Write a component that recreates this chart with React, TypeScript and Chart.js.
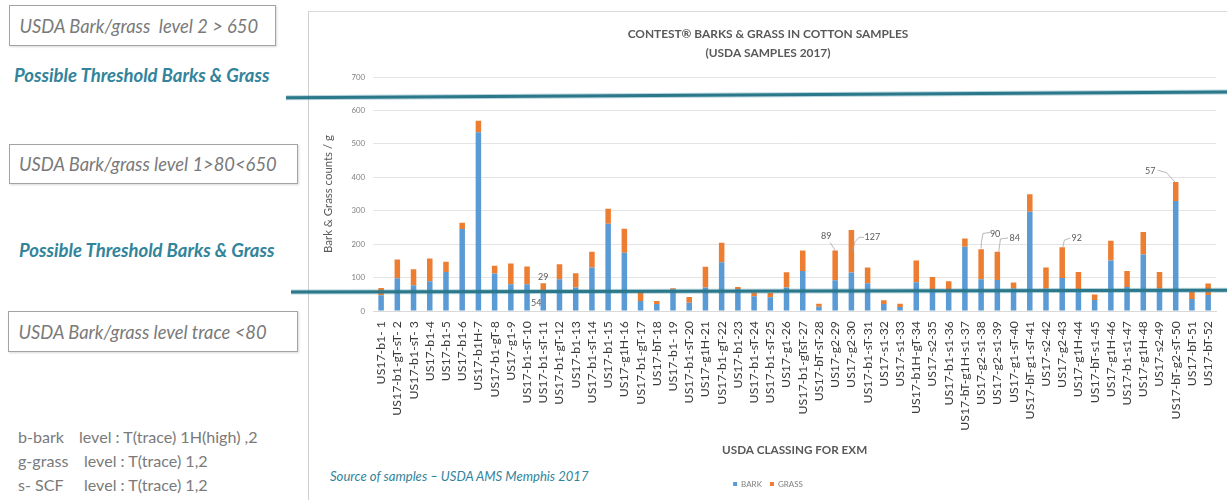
import React, { useEffect, useRef } from "react";
import { Chart, registerables } from "chart.js";

Chart.register(...registerables);

const categories = [
  "US17-b1- 1", "US17-b1-gT-sT- 2", "US17-b1-sT- 3", "US17-b1-4", "US17-b1-5", "US17-b1-6",
  "US17-b1H-7", "US17-b1-gT-8", "US17-g1-9", "US17-b1-sT-10", "US17-b1-sT-11", "US17-b1-gT-12",
  "US17-b1-13", "US17-b1-sT-14", "US17-b1-15", "US17-g1H-16", "US17-b1-gT-17", "US17-bT-18",
  "US17-b1- 19", "US17-b1-sT-20", "US17-g1H-21", "US17-b1-gT-22", "US17-b1-23", "US17-b1-sT-24",
  "US17-b1-sT-25", "US17-g1-26", "US17-b1-gTsT-27", "US17-bT-sT-28", "US17-g2-29", "US17-g2-30",
  "US17-b1-sT-31", "US17-s1-32", "US17-s1-33", "US17-b1H-gT-34", "US17-s2-35", "US17-b1-s1-36",
  "US17-bT-g1H-s1-37", "US17-g2-s1-38", "US17-g2-s1-39", "US17-g1-sT-40", "US17-bT-g1-sT-41",
  "US17-s2-42", "US17-g2-43", "US17-g1H-44", "US17-bT-s1-45", "US17-g1H-46", "US17-b1-s1-47",
  "US17-g1H-48", "US17-s2-49", "US17-bT-g2-sT-50", "US17-bT-51", "US17-bT-52",
];

const bark = [
  47, 98, 77, 89, 117, 245, 535, 112, 80, 80,
  54, 95, 70, 130, 261, 174, 30, 21, 65, 25,
  70, 146, 66, 44, 41, 70, 120, 13, 92, 115,
  83, 21, 12, 86, 66, 55, 192, 95, 93, 67,
  297, 67, 99, 66, 33, 151, 72, 169, 67, 329,
  36, 48,
];

const grass = [
  22, 56, 48, 68, 30, 19, 34, 23, 62, 53,
  29, 45, 43, 47, 45, 72, 27, 9, 3, 17,
  62, 58, 6, 11, 13, 46, 61, 9, 89, 127,
  47, 11, 10, 65, 36, 34, 25, 90, 84, 18,
  52, 63, 92, 51, 16, 59, 48, 67, 50, 57,
  21, 34,
];

const yTickMax = 700;
const yTickStep = 100;

// bars whose grass / bark values carry a data label
const grassLabelIdx = [10, 28, 29, 37, 38, 42, 49];
const barkLabelIdx = [10];

// hand-drawn threshold lines: value at left end, value at right end
const thresholdHigh = [638, 655];
const thresholdLow = [57, 62];

const TEAL = "#31849B";
const FONT = 'Lato, "Open Sans", sans-serif';

// label placement relative to the top of the grass segment (styling only)
const grassLabelPlacement = [
  { dx: 0, dy: -6, leader: [] as number[][] },
  { dx: -9, dy: -14, leader: [[-5, -8], [0, 0]] },
  { dx: 21, dy: 7, leader: [[12.6, 7.3], [7.6, 7.3], [3.6, 11.7], [0.9, 20.7]] },
  { dx: 14, dy: -15, leader: [[8.6, -16.7], [1.9, -15.7], [0.3, -7.3], [0, -0.7]] },
  { dx: 17.5, dy: -14, leader: [[10.7, -13.9], [3.1, -12.9], [1.4, 0]] },
  { dx: 14.5, dy: -9, leader: [[8.1, -9.2], [2.1, -6.9], [0.7, -0.2]] },
  { dx: -25.5, dy: -11, leader: [[-18.1, -11.9], [-9.1, -9.2], [-0.7, 0.1]] },
];
const barkLabelPlacement = [{ dx: -7, dy: 10 }];

let measureCtx: CanvasRenderingContext2D | null = null;
function fitSize(text: string, targetW: number, weight = "normal", style = "normal"): number {
  if (!measureCtx && typeof document !== "undefined") {
    measureCtx = document.createElement("canvas").getContext("2d");
  }
  if (!measureCtx) return 12;
  measureCtx.font = `${style} ${weight} 100px ${FONT}`;
  const w = measureCtx.measureText(text).width;
  return Math.round((targetW / w) * 1000) / 10;
}

export default function App() {
  const canvasRef = useRef<HTMLCanvasElement>(null);

  useEffect(() => {
    const canvas = canvasRef.current;
    if (!canvas) return;

    const titleSize = fitSize("CONTEST\u00AE BARKS & GRASS IN COTTON SAMPLES", 280, "bold");
    const xTitleSize = fitSize("USDA CLASSING FOR EXM", 145, "bold");
    const yTitleSize = fitSize("Bark & Grass counts / g", 118);
    const xTickSize = fitSize("US17-b1-gT-sT- 2", 95);
    const dataLabelSize = 9;

    const labelsPlugin = {
      id: "valueLabels",
      afterDatasetsDraw(chart: any) {
        const ctx = chart.ctx;
        const barkMeta = chart.getDatasetMeta(0);
        const grassMeta = chart.getDatasetMeta(1);
        ctx.save();
        ctx.font = `${dataLabelSize}px ${FONT}`;
        ctx.fillStyle = "#595959";
        ctx.textAlign = "center";
        ctx.textBaseline = "middle";
        ctx.strokeStyle = "#a6a6a6";
        ctx.lineWidth = 0.8;
        grassLabelIdx.forEach((i, k) => {
          const el = grassMeta.data[i];
          const p = grassLabelPlacement[k];
          if (p.leader.length) {
            ctx.beginPath();
            p.leader.forEach(([lx, ly], j) => {
              if (j === 0) ctx.moveTo(el.x + lx, el.y + ly);
              else ctx.lineTo(el.x + lx, el.y + ly);
            });
            ctx.stroke();
          }
          ctx.fillText(String(grass[i]), el.x + p.dx, el.y + p.dy);
        });
        barkLabelIdx.forEach((i, k) => {
          const el = barkMeta.data[i];
          const p = barkLabelPlacement[k];
          ctx.fillText(String(bark[i]), el.x + p.dx, el.y + p.dy);
        });
        ctx.restore();
      },
    };

    const thresholdPlugin = {
      id: "thresholds",
      afterDraw(chart: any) {
        const ctx = chart.ctx;
        const ys = chart.scales.y;
        const lines = [
          { v: thresholdHigh, x0: 6 },
          { v: thresholdLow, x0: 11 },
        ];
        ctx.save();
        ctx.lineCap = "butt";
        lines.forEach(({ v, x0 }) => {
          const y0 = ys.getPixelForValue(v[0]);
          const y1 = ys.getPixelForValue(v[1]);
          ctx.beginPath();
          ctx.moveTo(x0, y0);
          ctx.lineTo(chart.width, y1);
          ctx.strokeStyle = "rgba(49,132,155,0.35)";
          ctx.lineWidth = 5;
          ctx.stroke();
          ctx.beginPath();
          ctx.moveTo(x0, y0);
          ctx.lineTo(chart.width, y1);
          ctx.strokeStyle = "#2b788b";
          ctx.lineWidth = 3;
          ctx.stroke();
        });
        ctx.restore();
      },
    };

    const chart = new Chart(canvas, {
      type: "bar",
      data: {
        labels: categories,
        datasets: [
          { label: "BARK", data: bark, backgroundColor: "#5B9BD5", borderWidth: 0 },
          { label: "GRASS", data: grass, backgroundColor: "#ED7D31", borderWidth: 0 },
        ],
      },
      options: {
        responsive: false,
        animation: false,
        events: [],
        layout: { padding: { left: 29, right: 0, top: 0, bottom: 2 } },
        datasets: {
          bar: { barPercentage: 0.34, categoryPercentage: 1 },
        },
        scales: {
          x: {
            stacked: true,
            grid: { display: false, drawTicks: true, tickLength: 6 },
            border: { display: true, color: "#d9d9d9", width: 1 },
            ticks: {
              autoSkip: false,
              maxRotation: 90,
              minRotation: 90,
              padding: 4,
              color: "#3a3a3a",
              font: { family: FONT, size: xTickSize },
            },
            title: {
              display: true,
              text: "USDA CLASSING FOR EXM",
              color: "#595959",
              font: { family: FONT, size: xTitleSize, weight: "bold", lineHeight: 1.2 },
              padding: { top: 0, bottom: 22 - (xTitleSize * 1.2) / 2 },
            },
            afterFit: (s: any) => {
              s.height = 161;
            },
          },
          y: {
            stacked: true,
            min: 0,
            max: yTickMax,
            grid: { color: "#e4e4e4", lineWidth: 1, drawTicks: false },
            border: { display: false },
            ticks: {
              stepSize: yTickStep,
              padding: 8,
              color: "#808080",
              font: { family: FONT, size: 7.8 },
            },
            title: {
              display: true,
              text: "Bark & Grass counts / g",
              color: "#595959",
              font: { family: FONT, size: yTitleSize, lineHeight: 1.2 },
              padding: { top: 19 - (yTitleSize * 1.2) / 2, bottom: 0 },
            },
            afterFit: (s: any) => {
              s.width = 64;
            },
          },
          y2: {
            position: "right",
            display: true,
            grid: { display: false, drawTicks: false },
            border: { display: false },
            ticks: { display: false },
            afterFit: (s: any) => {
              s.width = 9;
            },
          },
        },
        plugins: {
          title: {
            display: true,
            text: ["CONTEST\u00AE BARKS & GRASS IN COTTON SAMPLES", "(USDA SAMPLES 2017)"],
            color: "#595959",
            font: { family: FONT, size: titleSize, weight: "bold", lineHeight: 19 / titleSize },
            padding: { top: 24.5, bottom: 14.5 },
          },
          legend: {
            position: "bottom",
            labels: {
              boxWidth: 4,
              boxHeight: 4,
              padding: 8,
              color: "#7f7f7f",
              font: { family: FONT, size: 8 },
            },
          },
          tooltip: { enabled: false },
        },
      },
      plugins: [labelsPlugin, thresholdPlugin],
    } as any);

    return () => chart.destroy();
  }, []);

  const box1Text = "USDA Bark/grass  level 2 > 650";
  const box2Text = "USDA Bark/grass level 1>80<650";
  const box3Text = "USDA Bark/grass level trace <80";
  const tealText = "Possible Threshold Barks & Grass";
  const sourceText = "Source of samples \u2013 USDA AMS Memphis 2017";
  const boxSize = (fitSize(box1Text, 239, "normal", "italic") + fitSize(box2Text, 255, "normal", "italic") + fitSize(box3Text, 253, "normal", "italic")) / 3;
  const tealSize = fitSize(tealText, 256.5, "bold", "italic");
  const legendTextSize = fitSize("level : T(trace) 1H(high) ,2", 179);
  const sourceSize = fitSize(sourceText, 260, "normal", "italic");

  const box = (left: number, top: number, width: number, height: number, pad: number): React.CSSProperties => ({
    position: "absolute",
    left,
    top,
    width,
    height,
    boxSizing: "border-box",
    border: "1.5px solid #a3a3a3",
    boxShadow: "1px 1px 2px rgba(0,0,0,0.15)",
    display: "flex",
    alignItems: "center",
    paddingLeft: pad,
    fontFamily: FONT,
    fontStyle: "italic",
    fontSize: boxSize,
    color: "#7a7a7a",
    whiteSpace: "pre",
    background: "#fff",
  });

  const teal = (left: number, centerY: number): React.CSSProperties => ({
    position: "absolute",
    left,
    top: centerY - 12,
    height: 24,
    lineHeight: "24px",
    fontFamily: FONT,
    fontStyle: "italic",
    fontWeight: "bold",
    fontSize: tealSize,
    color: TEAL,
    whiteSpace: "pre",
  });

  const legendLine = (left: number, centerY: number): React.CSSProperties => ({
    position: "absolute",
    left,
    top: centerY - 11,
    height: 22,
    lineHeight: "22px",
    fontFamily: FONT,
    fontSize: legendTextSize,
    color: "#7a7a7a",
    whiteSpace: "pre",
  });

  return (
    <div
      style={{
        position: "absolute",
        left: 0,
        top: 0,
        width: 1227,
        height: 500,
        overflow: "hidden",
        background: "#fff",
      }}
    >
      <div
        style={{
          position: "absolute",
          left: 308,
          top: 11,
          width: 940,
          height: 520,
          borderLeft: "1px solid #cfcfcf",
          borderTop: "1px solid #d9d9d9",
        }}
      />
      <div style={box(9, 5, 267, 41, 9.5)}>{box1Text}</div>
      <div style={teal(14, 75)}>{tealText}</div>
      <div style={box(9, 144, 289, 40, 9)}>{box2Text}</div>
      <div style={teal(19, 250)}>{tealText}</div>
      <div style={box(8, 311, 290, 41, 9.5)}>{box3Text}</div>
      <div style={legendLine(18, 437)}>b-bark</div>
      <div style={legendLine(79, 437)}>level : T(trace) 1H(high) ,2</div>
      <div style={legendLine(18, 461)}>g-grass</div>
      <div style={legendLine(84, 461)}>level : T(trace) 1,2</div>
      <div style={legendLine(18, 485)}>s- SCF</div>
      <div style={legendLine(84, 485)}>level : T(trace) 1,2</div>
      <div
        style={{
          position: "absolute",
          left: 330,
          top: 467,
          height: 18,
          lineHeight: "18px",
          fontFamily: FONT,
          fontStyle: "italic",
          fontSize: sourceSize,
          color: TEAL,
          whiteSpace: "pre",
        }}
      >
        {sourceText}
      </div>
      <canvas
        ref={canvasRef}
        width={947}
        height={500}
        style={{ position: "absolute", left: 280, top: 0, width: 947, height: 500 }}
      />
    </div>
  );
}
